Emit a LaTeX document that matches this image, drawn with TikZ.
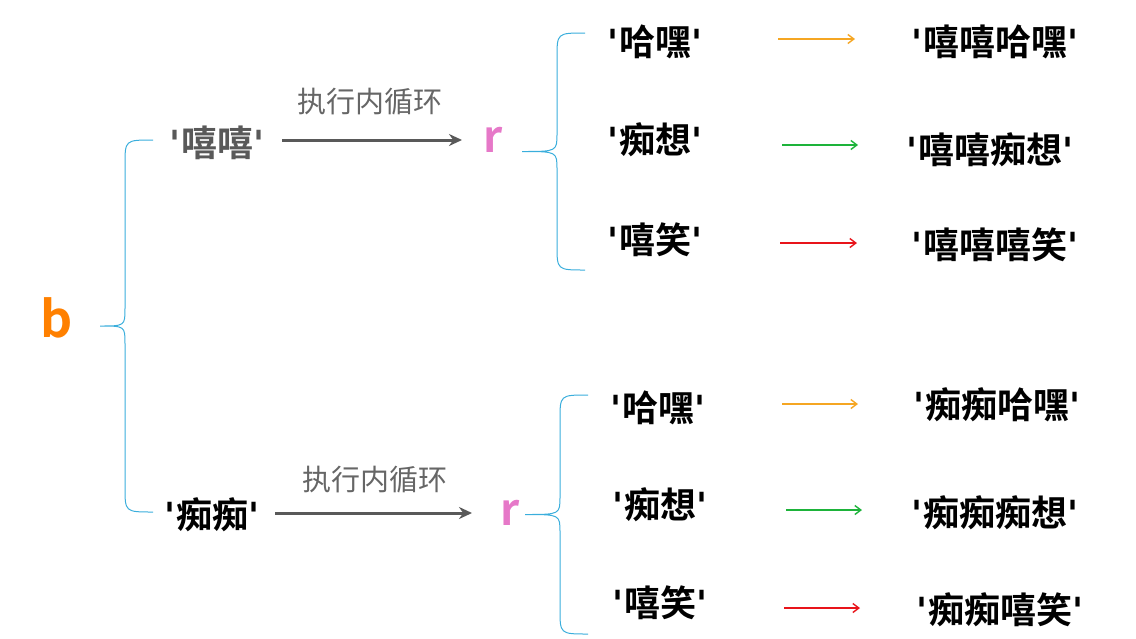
\documentclass[tikz,border=0pt]{standalone}
\usepackage{fontspec}
\setmainfont{Noto Sans CJK SC}[BoldFont={* Bold}]
\newfontfamily\qf{DejaVu Sans}[BoldFont={* Bold}]
\newcommand\qq{{\qf\bfseries\symbol{39}}}
\usetikzlibrary{arrows.meta}
\definecolor{bl}{HTML}{3AAEDC}
\definecolor{og}{HTML}{F5A623}
\definecolor{gr}{HTML}{1DB33A}
\definecolor{rd}{HTML}{E8141A}
\begin{document}
\begin{tikzpicture}[x=1pt,y=-1pt,
 t/.style={font=\fontsize{36}{36}\selectfont\bfseries},
 lab/.style={font=\fontsize{29}{29}\selectfont,text=black!60},
 ar/.style={draw=black!65,line width=3pt,-{Stealth[length=13pt,width=12pt]}},
 sa/.style={line width=1.4pt,-{Straight Barb[length=6pt,width=9pt]}},
 br/.style={draw=bl,line width=1pt}]
\useasboundingbox (0,0) rectangle (1136,638);
\def\brace#1#2#3#4{% x top bottom tip
 \pgfmathsetmacro\m{(#2+#3)/2}
 \draw[br] (#1+28,#2) .. controls (#1,#2) .. (#1,#2+25) -- (#1,\m-18) .. controls (#1,\m) .. (#4,\m) .. controls (#1,\m) .. (#1,\m+18) -- (#1,#3-25) .. controls (#1,#3) .. (#1+28,#3);}
\brace{125}{140}{512}{100}
\brace{557}{33}{270}{522}
\brace{560}{395}{634}{525}
\node[font=\fontsize{50}{50}\selectfont\bfseries,text={rgb,255:red,255;green,128;blue,0}] (b) at (57,318) {b};
\node[t,text=black!65] (x) at (217,143) {\qq 嘻嘻\qq};
\node[t] (c) at (212,515) {\qq 痴痴\qq};
\node[lab] (l1) at (370,102) {执行内循环};
\node[lab] (l2) at (375,480) {执行内循环};
\node[font=\fontsize{44}{44}\selectfont\bfseries,text={rgb,255:red,230;green,120;blue,200}] (r1) at (493,140) {r};
\node[font=\fontsize{44}{44}\selectfont\bfseries,text={rgb,255:red,230;green,120;blue,200}] (r2) at (510,513) {r};
\coordinate (a1s) at (282,140); \coordinate (a1e) at (462,140);
\coordinate (a2s) at (275,513); \coordinate (a2e) at (472,513);
\draw[ar] (a1s) -- (a1e);
\draw[ar] (a2s) -- (a2e);
\node[t] (u1) at (655,42) {\qq 哈嘿\qq};
\node[t] (u2) at (655,140) {\qq 痴想\qq};
\node[t] (u3) at (655,240) {\qq 嘻笑\qq};
\node[t] (v1) at (995,42) {\qq 嘻嘻哈嘿\qq};
\node[t] (v2) at (990,150) {\qq 嘻嘻痴想\qq};
\node[t] (v3) at (995,245) {\qq 嘻嘻嘻笑\qq};
\node[t] (p1) at (658,408) {\qq 哈嘿\qq};
\node[t] (p2) at (660,505) {\qq 痴想\qq};
\node[t] (p3) at (660,603) {\qq 嘻笑\qq};
\node[t] (q1) at (997,405) {\qq 痴痴哈嘿\qq};
\node[t] (q2) at (995,513) {\qq 痴痴痴想\qq};
\node[t] (q3) at (1000,610) {\qq 痴痴嘻笑\qq};
\draw[sa,og] (778,39) -- (855,39);
\draw[sa,gr] (782,145) -- (858,145);
\draw[sa,rd] (780,243) -- (857,243);
\draw[sa,og] (782,404) -- (858,404);
\draw[sa,gr] (786,510) -- (862,510);
\draw[sa,rd] (784,608) -- (860,608);
\end{tikzpicture}
\end{document}
